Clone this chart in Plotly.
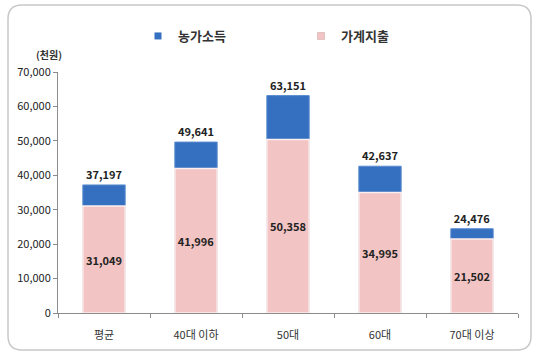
import plotly.graph_objects as go

categories = ["평균", "40대 이하", "50대", "60대", "70대 이상"]
income = [37197, 49641, 63151, 42637, 24476]
expense = [31049, 41996, 50358, 34995, 21502]
y_ticks = [0, 10000, 20000, 30000, 40000, 50000, 60000, 70000]

W, H = 540, 359
L, R, T, B = 58, 22, 72, 46
pw, ph = W - L - R, H - T - B

def px_x(p):
    return (p - L) / pw

def px_y(p):
    return (H - B - p) / ph

FONT = "Noto Sans CJK KR"
BLUE = "#3470bf"
PINK = "#f2c4c3"
fig = go.Figure()
fig.add_trace(go.Bar(
    x=categories, y=income, name="농가소득", showlegend=False,
    marker=dict(color=BLUE, line=dict(color="#5a8bd0", width=1)),
    text=[f"{v:,}" for v in income], textposition="outside", textangle=0,
    textfont=dict(family=FONT, size=11, color="#222222", weight="bold"),
    cliponaxis=False, width=0.46,
))
fig.add_trace(go.Bar(
    x=categories, y=expense, name="가계지출", showlegend=False,
    marker=dict(color=PINK, line=dict(color="#fbeeee", width=1.5)),
    text=[f"{v:,}" for v in expense], textposition="inside", textangle=0,
    insidetextanchor="middle", constraintext="none",
    textfont=dict(family=FONT, size=11, color="#222222", weight="bold"),
    width=0.46,
))
# legend entries with small square symbols
fig.add_trace(go.Scatter(x=[None], y=[None], mode="markers", name="농가소득",
                         marker=dict(symbol="square", size=7, color=BLUE)))
fig.add_trace(go.Scatter(x=[None], y=[None], mode="markers", name="가계지출",
                         marker=dict(symbol="square", size=7, color=PINK,
                                     line=dict(color="#c9a0a0", width=0.5))))

# rounded outer border
x0, x1 = px_x(8), px_x(531)
y0, y1 = px_y(350), px_y(5)
rx, ry = 14 / pw, 14 / ph
path = (f"M {x0+rx},{y1} L {x1-rx},{y1} Q {x1},{y1} {x1},{y1-ry} "
        f"L {x1},{y0+ry} Q {x1},{y0} {x1-rx},{y0} L {x0+rx},{y0} "
        f"Q {x0},{y0} {x0},{y0+ry} L {x0},{y1-ry} Q {x0},{y1} {x0+rx},{y1} Z")

fig.update_layout(
    width=W, height=H,
    margin=dict(l=L, r=R, t=T, b=B, autoexpand=False),
    barmode="overlay",
    paper_bgcolor="white", plot_bgcolor="white",
    font=dict(family=FONT, size=10, color="#333333"),
    showlegend=True,
    legend=dict(orientation="h", x=px_x(138), xanchor="left",
                y=px_y(36), yanchor="middle",
                entrywidth=118, itemwidth=30,
                font=dict(family=FONT, size=13, color="#333333", weight="bold"),
                bgcolor="rgba(0,0,0,0)"),
    xaxis=dict(showline=True, linecolor="#8c8c8c", linewidth=1,
               ticks="outside", ticklen=4, tickcolor="#8c8c8c",
               tickson="boundaries", tickfont=dict(size=11, color="#333333"),
               ticklabelstandoff=12,
               range=[-0.5, 4.5]),
    yaxis=dict(range=[0, 70000], tickvals=y_ticks, tickformat=",",
               showline=True, linecolor="#8c8c8c", linewidth=1,
               ticks="outside", ticklen=4, tickcolor="#8c8c8c",
               showgrid=False, zeroline=False,
               tickfont=dict(size=11, color="#222222")),
    shapes=[dict(type="path", xref="paper", yref="paper", path=path,
                 line=dict(color="#c8c8c8", width=1.5), fillcolor="rgba(0,0,0,0)")],
    annotations=[dict(text="(천원)", xref="paper", yref="paper",
                      x=px_x(34), y=px_y(45), showarrow=False,
                      font=dict(family=FONT, size=10, color="#333333", weight="bold"))],
)
fig.write_html("out.html", config={"displayModeBar": False},
               post_script="document.body.style.margin='0';")
